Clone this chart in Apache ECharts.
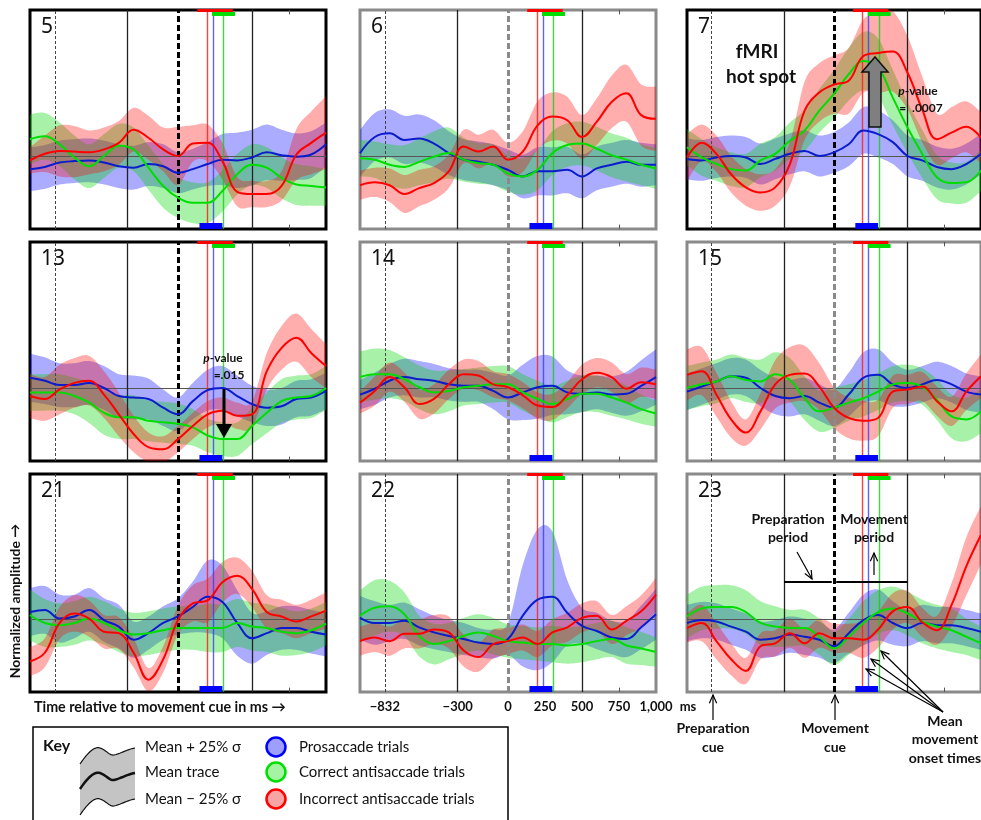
<!DOCTYPE html>
<html>
<head>
<meta charset="utf-8">
<script src="https://cdn.jsdelivr.net/npm/echarts@6/dist/echarts.min.js"></script>
<style>
html, body { margin: 0; padding: 0; background: #fff; }
#chart { width: 981px; height: 820px; }
</style>
</head>
<body>
<div id="chart"></div>
<script>
// sample times (ms, relative to movement cue)
const times = [-1000, -900, -800, -700, -600, -500, -400, -300, -200, -100, 0, 100, 200, 300, 400, 500, 600, 700, 800, 900, 1000];
const tickValues = [-832, -340, 0, 250, 500, 750, 1000];
const tickLabels = ['−832', '−300', '0', '250', '500', '750', '1,000'];
const prepCue = -832;
const periodStart = -340;
const moveCue = 0;
const periodEnd = 500;
const onsetRed = 195;
const onsetBlue = 235;
const onsetGreen = 305;
const spreadRed = [130, 370];
const spreadGreen = [230, 385];
const spreadBlue = [145, 300];

// mean traces and 25% sigma (x10 normalized amplitude)
const blue5 = [-1.8, -1.5, -0.9, -0.7, -0.6, -0.9, -1.4, -1.6, -1.1, -1.4, -2.3, -1.8, -1.1, -0.5, -0.6, -0.2, 0.5, 0.1, -0.1, 0.2, 1.6];
const blue5Sd = [3, 3, 3, 3, 3, 3, 3, 3, 3, 3, 2.8, 2.8, 3, 3.5, 3.8, 3.8, 3.8, 3.5, 3.2, 3.2, 3];
const green5 = [2.3, 2.7, 1.6, -0.2, -1.4, 0, 1.4, 0.9, -1.6, -4.1, -5.7, -6.4, -6.4, -4.8, -2.5, -1.2, -1.6, -3, -3.9, -4.1, -4.3];
const green5Sd = [3.4, 3.2, 3, 3, 3, 3, 3, 3, 3, 3, 2.8, 2.8, 2.8, 2.8, 2.8, 2.8, 2.8, 2.8, 2.8, 2.7, 2.5];
const red5 = [-0.6, 0.3, 0.7, 0.6, 0.5, 0.9, 1.8, 3.6, 2.5, 0.9, 0, 1.7, 1.8, -0.7, -4.9, -5.2, -5.2, -4.1, 0.2, 1.8, 3.2];
const red5Sd = [1.8, 2.5, 3.5, 3.5, 3, 3, 3, 3, 3, 3, 4, 2.5, 2.5, 2.5, 2, 1.8, 1.8, 2, 3.5, 4.3, 5];

const blue6 = [0.4, 2.6, 3.1, 2.2, 2.4, 1.7, 0.4, -0.5, -0.8, -1.2, -1.9, -2.8, -2.1, -2.1, -1.9, -2.8, -1.7, -1.2, -0.8, -1.2, -1.2];
const blue6Sd = [3.2, 3.3, 3.3, 3.3, 3.3, 3.2, 3, 2.8, 2.8, 2.8, 2.8, 3, 3.3, 3.3, 3.2, 3, 3, 3, 3, 3, 2.8];
const green6 = [-0.3, -0.5, -1.2, -1.5, -0.8, -0.1, 0.4, -0.5, -1, -1.2, -2.4, -2.8, -1.9, 0.4, 1.5, 1.7, 1, 0.1, -0.5, -1.2, -1.7];
const green6Sd = [2.5, 2.5, 2.8, 3, 3.2, 3.5, 3.5, 3, 2.8, 2.8, 2.5, 2.5, 2.8, 3, 3, 3, 3, 3, 3, 2.8, 2.8];
const red6 = [-4, -3.6, -4, -5.2, -4.4, -3.7, -2.1, 1.3, 0.6, 1.3, -0.5, 0.6, 4.2, 5.4, 4.9, 2.6, 4.7, 7.4, 8.6, 5.6, 5.1];
const red6Sd = [2, 2, 2.3, 2.6, 2.5, 2.3, 2.3, 2.3, 2.3, 2.3, 2.3, 2.8, 3.3, 3.3, 3.2, 3, 3.2, 3.6, 3.9, 4.2, 4.4];

const blue7 = [-0.4, -0.6, -0.2, 0, -0.2, -1.1, -0.4, 0.3, 0.7, 0, 0.5, 1.6, 3.5, 3, 1.9, 0, -0.6, -1.5, -1.8, -1.1, 0.3];
const blue7Sd = [2.8, 2.8, 2.8, 2.8, 2.8, 2.8, 2.8, 2.8, 2.8, 2.8, 2.8, 3, 3.2, 3.2, 3, 2.8, 2.8, 2.8, 2.8, 2.8, 2.8];
const green7 = [1.2, -0.2, -1.1, -1.8, -2, -0.6, 0.3, 2.1, 3.5, 6.2, 8.5, 11.2, 13, 12.1, 8, 3.9, 0.3, -2.9, -3.7, -3.6, -2];
const green7Sd = [2.5, 2.5, 2.3, 2.3, 2.3, 2.3, 2.3, 2.5, 2.8, 3, 3.3, 3.6, 4, 4, 3.8, 3.5, 3.3, 3, 2.8, 2.8, 2.8];
const red7 = [-0.2, 1.8, 0.3, -2.5, -4.3, -5, -4.3, -1.1, 6.2, 8.7, 9.8, 10.3, 13.7, 14.1, 14.3, 11.4, 6.4, 2.3, 3.2, 4, 2.5];
const red7Sd = [3.2, 2.5, 2.5, 2.5, 2.5, 2.5, 2.5, 3, 4, 4, 4, 4.5, 5, 5.5, 5.5, 5, 4.5, 3.5, 3.5, 3.5, 3.5];

const blue13 = [1.4, 1, 0.4, 0.4, 0.7, 0, -1.1, -1.3, -1.5, -2.7, -3.6, -1.8, -0.3, 0, -1.1, -2.2, -2.7, -2.5, -1.5, -1.3, -0.4];
const blue13Sd = [3.3, 3.2, 3, 3, 3, 3, 3, 3, 2.8, 2.5, 2.3, 2.5, 2.8, 3, 2.8, 2.5, 2.5, 2.5, 2.5, 2.5, 2.5];
const green13 = [-0.6, -0.6, -0.6, -1.1, -2, -3.4, -4, -4, -4.5, -4.7, -4.9, -5.4, -6.5, -7, -7, -5.2, -3.4, -1.8, -1.3, -1.1, 0];
const green13Sd = [2.5, 2.5, 2.5, 2.5, 2.8, 3, 3, 3, 2.8, 2.8, 2.8, 2.5, 2.3, 2.3, 2.3, 2.5, 2.8, 3, 3, 3, 3];
const red13 = [-1.1, -1.5, -0.2, 0.7, 1, -0.9, -3.6, -6.3, -8.1, -8.4, -7, -5.2, -3.6, -3.1, -3.8, -3.6, 2.3, 5.5, 6.9, 4.8, 3];
const red13Sd = [3, 3, 3.4, 3.4, 3.4, 3.2, 3, 2.5, 2, 1.8, 1.8, 1.8, 1.8, 1.8, 1.8, 1.8, 2.5, 3, 3.3, 3.3, 3];

const blue14 = [-0.9, -0.1, 1, 1.5, 1.2, 1, 0.5, 0.3, 0.3, -0.4, -1.3, -0.6, 0.1, 0.3, -0.6, -0.8, -0.6, -0.9, -0.8, 0.3, 1.5];
const blue14Sd = [2, 2.2, 2.3, 2.5, 2.5, 2.3, 2.2, 2.2, 2.2, 2.5, 3, 3.8, 4.3, 4, 3, 2.5, 2.3, 2.5, 3, 3.5, 3.8];
const green14 = [1.5, 1.9, 1.9, 1.2, 0.1, -0.6, -0.4, 0.1, 0.3, 0.5, 0.5, -0.6, -1.5, -2.2, -1.5, -0.8, -0.8, -1.3, -2, -2.9, -3.5];
const green14Sd = [3.5, 3.5, 3.3, 3, 3, 3, 2.8, 2.5, 2.5, 2.5, 2.5, 2.5, 2.5, 2.5, 2.5, 2.5, 2.5, 2.5, 2.3, 2, 1.8];
const red14 = [-2, -0.4, 1.5, 0.1, -2.2, -1.5, 0.5, 1.9, 1.7, 0.5, 0.1, -1, -2.4, -2.6, -1, 1.2, 2.1, 1.5, -0.1, 0.8, 0.5];
const red14Sd = [1.5, 2, 2, 2, 2, 2, 2, 2, 2, 1.8, 1.8, 1.8, 1.8, 1.8, 1.8, 2, 2, 2, 2, 2, 2];

const blue15 = [-0.5, 0.2, 0.9, 1.6, 1.4, 0, -1.1, -1.4, -1.1, -2, -2.7, -0.9, 1.4, 1.8, 0.5, 0, 0.5, 1.1, 0.5, -0.5, -0.9];
const blue15Sd = [2.5, 2.5, 2.5, 2.5, 2.5, 2.5, 2.5, 2.5, 2.5, 2.5, 2.5, 3, 3.5, 3.5, 3, 2.5, 2.5, 2.5, 2.5, 2.5, 2.5];
const green15 = [0, 0.5, 0.9, 1.6, 1.1, 0.9, 1.9, 1.1, -1.4, -3.2, -2.7, -2, -1.4, -0.5, 0.5, 0.7, 0.2, -1.6, -3.9, -4.3, -3.2];
const green15Sd = [3, 3, 3, 3, 3, 3, 3, 3, 3, 2.8, 2.8, 2.5, 2.5, 2.5, 2.5, 2.5, 2.5, 2.8, 3, 3, 3];
const red15 = [1.8, 2.3, -0.9, -4.3, -6.1, -3.2, 0.5, 1.8, 2, 0.2, -2.7, -4.1, -4.5, -4.1, -0.5, -0.2, 0.2, -1.8, -3.2, -0.5, 1.6];
const red15Sd = [3.5, 3.3, 3, 2.5, 1.8, 2.5, 3.3, 3.8, 3.8, 3.2, 2.8, 2.8, 2.7, 2.5, 2.2, 2, 2, 2, 2, 2.5, 3];

const blue21 = [1, 1.3, 0.1, 0.4, 1.3, -0.1, -1, -2.8, -1.9, -0.5, 0.4, 1.7, 3.1, 2.4, -0.5, -2.6, -1.9, -1.2, -1.2, -1.7, -2.1];
const blue21Sd = [3.3, 3.3, 3.3, 3, 3, 3, 3, 2.5, 2.3, 2.3, 2.5, 3.5, 5, 5, 4.5, 3.5, 3, 3, 3, 3, 3];
const green21 = [0.6, -0.5, -0.8, -0.5, 0.1, -0.5, -1.5, -2.1, -1.9, -1.5, -1.2, -1.2, -1.2, -1.2, -0.5, -1, -1.2, -1.7, -1.9, -1.5, -0.6];
const green21Sd = [3.5, 3.3, 3, 3, 3, 3, 3, 3, 3, 3, 3, 3, 3.3, 3.3, 3.3, 3.3, 3.3, 3.3, 3, 3, 3];
const red21 = [-5.8, -4.6, -0.5, 0.8, 0.1, -1.7, -1.9, -4.6, -8.3, -5.5, -0.1, 2.2, 2.6, 5.1, 6, 4.2, 1, 0.4, -0.3, 0.4, 1.2];
const red21Sd = [2, 2, 2.2, 2.5, 2.5, 2.3, 2.2, 2, 1.6, 1.8, 2, 2.5, 3, 2.8, 2.5, 2.5, 2.3, 2.3, 2.3, 2.3, 2.5];

const blue22 = [0.2, -0.5, -0.5, -0.2, -1.1, -1.8, -2.3, -2.7, -3.2, -3.4, -2.7, 0.5, 2.7, 3.1, 0.9, -0.9, -1.6, -2.5, -2.7, -1.1, 0.7];
const blue22Sd = [3, 3, 2.5, 2.5, 2.5, 2.3, 2.2, 2.2, 2, 2, 2.2, 7, 9.7, 9, 4.5, 2.5, 2.5, 2.3, 2.5, 3, 3.5];
const green22 = [0.5, 1.6, 1.8, 0.7, -2.3, -3.4, -3, -2.3, -1.8, -2.3, -3, -3.2, -3.4, -3.4, -3.6, -3.4, -3, -2.7, -3.6, -4, -4.5];
const green22Sd = [3.5, 3.8, 3.5, 3, 2.8, 2.8, 2.5, 2.5, 2.5, 2.5, 2.3, 2.3, 2.3, 2.5, 2.5, 2.5, 2.5, 2.5, 2.5, 2.3, 2];
const red22 = [-3, -2.5, -3, -2, -2, -1.4, -1.8, -4.3, -5.2, -3.4, -3, -2.5, -3.4, -1.8, -1.1, 0.2, 0.5, -1.4, -0.2, 1.1, 3.4];
const red22Sd = [2, 2, 2, 2, 2, 2, 2.2, 2.2, 2, 2, 1.8, 1.8, 1.8, 1.8, 2, 2, 2, 2, 2, 2.2, 2.3];

const blue23 = [-0.5, -0.1, -0.3, -1, -1.7, -2.8, -2.6, -2.1, -2.4, -2.8, -3.7, -1.9, -0.1, 0.6, -0.5, -1.2, -0.5, -0.8, -0.8, -1.2, -1.7];
const blue23Sd = [2.5, 2.5, 2.5, 2.5, 2.5, 2.5, 2.5, 2.5, 2.5, 2.5, 2.3, 2.8, 3.5, 3.5, 3, 2.5, 2.5, 2.5, 2.5, 2.5, 2.5];
const green23 = [0.4, 1.5, 1.7, 1.7, 1, -0.5, -1, -1.2, -1.2, -2.4, -4, -2.4, -0.5, 1, 1.5, 0.8, -0.3, -1, -1.5, -2.4, -3.3];
const green23Sd = [3, 3, 3, 3, 3, 3, 2.8, 2.5, 2.5, 2.5, 2.3, 2.5, 3, 3, 3, 3, 3, 3, 3, 2.5, 2.3];
const red23 = [-1.2, -0.5, -3, -5.5, -7.1, -3.7, -3.3, -1.9, -3.3, -1.9, -2.6, -2.6, -2.8, -1.4, 1.1, 1.7, -0.4, -1.5, 2, 7.3, 11.6];
const red23Sd = [2, 2.5, 2.5, 2.2, 1.8, 1.8, 1.8, 2, 2, 2, 2, 2, 2.5, 2.5, 2.5, 2.2, 2, 2, 3, 4, 4];

const BLACK = '#000';
const GRAY = '#8a8a8a';
const panels = [
  { id: '5', left: 30, top: 10, h: 219, frame: BLACK, zero: BLACK, b: blue5, bs: blue5Sd, g: green5, gs: green5Sd, r: red5, rs: red5Sd },
  { id: '6', left: 360, top: 10, h: 219, frame: GRAY, zero: GRAY, b: blue6, bs: blue6Sd, g: green6, gs: green6Sd, r: red6, rs: red6Sd },
  { id: '7', left: 687, top: 10, h: 219, frame: BLACK, zero: BLACK, b: blue7, bs: blue7Sd, g: green7, gs: green7Sd, r: red7, rs: red7Sd },
  { id: '13', left: 30, top: 242, h: 219, frame: BLACK, zero: BLACK, b: blue13, bs: blue13Sd, g: green13, gs: green13Sd, r: red13, rs: red13Sd },
  { id: '14', left: 360, top: 242, h: 219, frame: GRAY, zero: GRAY, b: blue14, bs: blue14Sd, g: green14, gs: green14Sd, r: red14, rs: red14Sd },
  { id: '15', left: 687, top: 242, h: 219, frame: GRAY, zero: GRAY, b: blue15, bs: blue15Sd, g: green15, gs: green15Sd, r: red15, rs: red15Sd },
  { id: '21', left: 30, top: 474, h: 218, frame: BLACK, zero: BLACK, b: blue21, bs: blue21Sd, g: green21, gs: green21Sd, r: red21, rs: red21Sd },
  { id: '22', left: 360, top: 474, h: 218, frame: GRAY, zero: GRAY, b: blue22, bs: blue22Sd, g: green22, gs: green22Sd, r: red22, rs: red22Sd },
  { id: '23', left: 687, top: 474, h: 218, frame: GRAY, zero: BLACK, b: blue23, bs: blue23Sd, g: green23, gs: green23Sd, r: red23, rs: red23Sd }
]

const YMIN = -10, YMAX = 20
const FONT = 'Lato, "DejaVu Sans", sans-serif'

const myChart = echarts.init(document.getElementById('chart'), null, { renderer: 'canvas' })

const grids = [], xAxes = [], yAxes = [], series = []

// catmull-rom through pixel points, so band edges curve like the traces
function spline(pts) {
  const out = []
  const n = pts.length
  for (let i = 0; i < n - 1; i++) {
    const p0 = pts[Math.max(i - 1, 0)], p1 = pts[i], p2 = pts[i + 1], p3 = pts[Math.min(i + 2, n - 1)]
    for (let s = 0; s < 8; s++) {
      const t = s / 8, t2 = t * t, t3 = t2 * t
      const f = d => 0.5 * (2 * p1[d] + (-p0[d] + p2[d]) * t + (2 * p0[d] - 5 * p1[d] + 4 * p2[d] - p3[d]) * t2 + (-p0[d] + 3 * p1[d] - 3 * p2[d] + p3[d]) * t3)
      out.push([f(0), f(1)])
    }
  }
  out.push(pts[n - 1])
  return out
}

function band(gi, mean, sd, color) {
  return {
    type: 'custom', xAxisIndex: gi, yAxisIndex: gi, silent: true, z: 2,
    data: times.map((t, k) => [t, mean[k] - sd[k], mean[k] + sd[k]]),
    encode: { x: 0, y: [1, 2] },
    renderItem: (params, api) => {
      if (params.dataIndex !== 0) return null
      const up = times.map((t, k) => api.coord([t, mean[k] + sd[k]]))
      const lo = times.map((t, k) => api.coord([t, mean[k] - sd[k]]))
      const cs = params.coordSys
      return {
        type: 'polygon',
        shape: { points: spline(up).concat(spline(lo).reverse()) },
        style: { fill: color },
        clipPath: { type: 'rect', shape: { x: cs.x, y: cs.y, width: cs.width, height: cs.height } }
      }
    }
  }
}

function meanLine(gi, mean, color) {
  return {
    type: 'line', xAxisIndex: gi, yAxisIndex: gi, smooth: 0.4, symbol: 'none', silent: true, z: 5,
    lineStyle: { color, width: 2 },
    data: times.map((t, k) => [t, mean[k]])
  }
}

function seg(x1, y1, x2, y2, style) {
  return [{ coord: [x1, y1], lineStyle: style }, { coord: [x2, y2] }]
}

panels.forEach((p, gi) => {
  grids.push({
    left: p.left, top: p.top, width: 296, height: p.h,
    show: true, borderColor: p.frame, borderWidth: 3, backgroundColor: '#fff'
  })
  const isAxisPanel = p.id === '22'
  xAxes.push({
    gridIndex: gi, type: 'value', min: -1000, max: 1000,
    axisLine: { show: false }, axisTick: { show: false }, splitLine: { show: false },
    axisLabel: isAxisPanel ? {
      show: true, customValues: tickValues, hideOverlap: false,
      formatter: v => tickLabels[tickValues.indexOf(v)],
      color: '#111', fontSize: 13, fontWeight: 'bold', fontFamily: FONT, margin: 8
    } : { show: false }
  })
  yAxes.push({
    gridIndex: gi, type: 'value', min: YMIN, max: YMAX,
    axisLine: { show: false }, axisTick: { show: false }, splitLine: { show: false }, axisLabel: { show: false }
  })

  series.push(band(gi, p.b, p.bs, 'rgba(0,0,255,0.33)'))
  series.push(band(gi, p.g, p.gs, 'rgba(0,215,0,0.34)'))
  series.push(band(gi, p.r, p.rs, 'rgba(255,0,0,0.32)'))

  const marks = [
    { yAxis: 0, lineStyle: { color: '#555', width: 1, type: 'solid' } },
    { xAxis: prepCue, lineStyle: { color: '#444', width: 1, type: [3, 2] } },
    { xAxis: periodStart, lineStyle: { color: '#222', width: 1.3, type: 'solid' } },
    { xAxis: periodEnd, lineStyle: { color: '#222', width: 1.3, type: 'solid' } },
    { xAxis: onsetRed, lineStyle: { color: '#ff2020', width: 1.4, type: 'solid', opacity: 0.85 } },
    { xAxis: onsetBlue, lineStyle: { color: '#3a3aff', width: 1.4, type: 'solid', opacity: 0.8 } },
    { xAxis: onsetGreen, lineStyle: { color: '#10d010', width: 1.4, type: 'solid', opacity: 0.8 } },
    { xAxis: moveCue, lineStyle: { color: p.zero, width: 3, type: [6, 3] } },
    seg(750, YMAX, 750, YMAX - 0.6, { color: '#555', width: 1, type: 'solid' }),
    seg(750, YMIN, 750, YMIN + 0.6, { color: '#555', width: 1, type: 'solid' }),
    seg(spreadRed[0], YMAX - 0.1, spreadRed[1], YMAX - 0.1, { color: '#ff0000', width: 3, type: 'solid' }),
    seg(spreadGreen[0], YMAX - 0.5, spreadGreen[1], YMAX - 0.5, { color: '#00dd00', width: 4, type: 'solid' }),
    seg(spreadBlue[0], YMIN + 0.45, spreadBlue[1], YMIN + 0.45, { color: '#0000ff', width: 6, type: 'solid' })
  ]
  if (p.id === '23') {
    marks.push(seg(periodStart, 5.2, -15, 5.2, { color: '#000', width: 2, type: 'solid' }))
    marks.push(seg(15, 5.2, periodEnd, 5.2, { color: '#000', width: 2, type: 'solid' }))
  }
  series.push({
    type: 'line', xAxisIndex: gi, yAxisIndex: gi, silent: true, z: 4,
    symbol: 'none', lineStyle: { opacity: 0 }, data: [[0, 0]],
    markLine: { silent: true, symbol: ['none', 'none'], label: { show: false }, animation: false, data: marks }
  })

  series.push(meanLine(gi, p.b, '#0a1ccc'))
  series.push(meanLine(gi, p.g, '#00dd00'))
  series.push(meanLine(gi, p.r, '#ff0000'))
})

// annotation helpers
function vHead(fx, fy, tx, ty, len) {
  const a = Math.atan2(ty - fy, tx - fx)
  const s = 0.42
  return [
    [tx - len * Math.cos(a - s), ty - len * Math.sin(a - s)],
    [tx, ty],
    [tx - len * Math.cos(a + s), ty - len * Math.sin(a + s)]
  ]
}
function thinArrow(fx, fy, tx, ty) {
  return [
    { type: 'polyline', z: 100, shape: { points: [[fx, fy], [tx, ty]] }, style: { stroke: '#000', lineWidth: 1.2, fill: null } },
    { type: 'polyline', z: 100, shape: { points: vHead(fx, fy, tx, ty, 9) }, style: { stroke: '#000', lineWidth: 1.2, fill: null } }
  ]
}
function label(text, x, y, size, weight, extra) {
  return {
    type: 'text', z: 100, x, y,
    style: Object.assign({
      text, font: (weight || 'bold') + ' ' + size + 'px ' + FONT, fill: '#111',
      align: 'center', verticalAlign: 'middle'
    }, extra || {})
  }
}
// cubic bezier points for the key icon
function bez(p0, c1, c2, p3) {
  const pts = []
  for (let i = 0; i <= 12; i++) {
    const t = i / 12, u = 1 - t
    pts.push([
      u * u * u * p0[0] + 3 * u * u * t * c1[0] + 3 * u * t * t * c2[0] + t * t * t * p3[0],
      u * u * u * p0[1] + 3 * u * u * t * c1[1] + 3 * u * t * t * c2[1] + t * t * t * p3[1]
    ])
  }
  return pts
}
function wave(dy) {
  return [].concat(
    bez([80, 764 + dy], [88, 752 + dy], [95, 746 + dy], [100, 748 + dy]),
    bez([100, 748 + dy], [106, 750 + dy], [110, 756 + dy], [114, 755 + dy]),
    bez([114, 755 + dy], [122, 753 + dy], [128, 749 + dy], [135, 748 + dy])
  )
}
const pRich = { i: { fontStyle: 'italic', fontWeight: 'bold', fontSize: 12, fontFamily: FONT, fill: '#111' } }

const graphics = []
// panel numbers
panels.forEach(p => {
  graphics.push({
    type: 'text', z: 100, x: p.left + 11, y: p.top + 17,
    style: { text: p.id, font: '21px "Noto Sans", sans-serif', fill: '#111', align: 'left', verticalAlign: 'middle' }
  })
})

// panel 7 annotations
graphics.push(label('fMRI', 757, 52, 19))
graphics.push(label('hot spot', 761, 77, 19))
graphics.push({
  type: 'polygon', z: 100,
  shape: { points: [[869, 127], [869, 72], [862, 72], [875, 57], [888, 72], [881, 72], [881, 127]] },
  style: { fill: '#7f7f7f', stroke: '#111', lineWidth: 1.5 }
})
graphics.push(label('{i|p}-value', 918, 91, 12, 'bold', { rich: pRich }))
graphics.push(label('=  .0007', 921, 108, 12))

// panel 13 annotations
graphics.push(label('{i|p}-value', 223, 358, 12, 'bold', { rich: pRich }))
graphics.push(label('=.015', 229, 375, 12))
graphics.push({ type: 'polyline', z: 100, shape: { points: [[224, 389], [224, 426]] }, style: { stroke: '#000', lineWidth: 3, fill: null } })
graphics.push({ type: 'polygon', z: 100, shape: { points: [[216, 424], [232, 424], [224, 438]] }, style: { fill: '#000' } })

// panel 23 annotations
graphics.push(label('Preparation', 788, 519, 14))
graphics.push(label('period', 788, 537, 14))
graphics.push(label('Movement', 874, 519, 14))
graphics.push(label('period', 874, 537, 14))
graphics.push(...thinArrow(797, 552, 812, 579))
graphics.push(...thinArrow(874, 575, 874, 553))

graphics.push(label('Preparation', 713, 728, 14))
graphics.push(label('cue', 713, 747, 14))
graphics.push(...thinArrow(713, 720, 713, 695))
graphics.push(label('Movement', 835, 728, 14))
graphics.push(label('cue', 835, 747, 14))
graphics.push(...thinArrow(835, 720, 835, 695))
graphics.push(label('Mean', 945, 721, 14))
graphics.push(label('movement', 945, 739, 14))
graphics.push(label('onset times', 945, 758, 14))
graphics.push(...thinArrow(943, 712, 866, 669))
graphics.push(...thinArrow(943, 712, 871, 659))
graphics.push(...thinArrow(943, 712, 881, 651))

// axis titles
graphics.push(label('Time relative to movement cue in ms →', 34, 707, 14.3, 'bold', { align: 'left' }))
graphics.push(label('ms', 688, 707, 13))
graphics.push({
  type: 'text', z: 100, x: 15, y: 601, rotation: Math.PI / 2,
  style: { text: 'Normalized amplitude →', font: 'bold 14px ' + FONT, fill: '#111', align: 'center', verticalAlign: 'middle' }
})

// key box
graphics.push({ type: 'rect', z: 100, shape: { x: 33, y: 727, width: 475, height: 120 }, style: { fill: '#fff', stroke: '#000', lineWidth: 1.5 } })
graphics.push(label('Key', 43, 746, 16, 'bold', { align: 'left' }))
const topWave = wave(0), midWave = wave(25), lowWave = wave(51)
graphics.push({
  type: 'polygon', z: 101,
  shape: { points: topWave.concat(lowWave.slice().reverse()) },
  style: { fill: '#c4c4c4', stroke: null }
})
graphics.push({ type: 'polyline', z: 102, shape: { points: topWave }, style: { fill: null, stroke: '#111', lineWidth: 1.2 } })
graphics.push({ type: 'polyline', z: 102, shape: { points: midWave }, style: { fill: null, stroke: '#111', lineWidth: 2.5 } })
graphics.push({ type: 'polyline', z: 102, shape: { points: lowWave }, style: { fill: null, stroke: '#111', lineWidth: 1.2 } })
graphics.push(label('Mean + 25% σ', 145, 747, 15, 'normal', { align: 'left' }))
graphics.push(label('Mean trace', 145, 772, 15, 'normal', { align: 'left' }))
graphics.push(label('Mean − 25% σ', 145, 799, 15, 'normal', { align: 'left' }))
const keyRows = [
  { y: 747, fill: '#9e9eff', stroke: '#0000ff', text: 'Prosaccade trials' },
  { y: 772, fill: '#a4f4a4', stroke: '#00e000', text: 'Correct antisaccade trials' },
  { y: 799, fill: '#f8a4a4', stroke: '#ff0000', text: 'Incorrect antisaccade trials' }
]
keyRows.forEach(k => {
  graphics.push({ type: 'circle', z: 101, shape: { cx: 276, cy: k.y, r: 9.5 }, style: { fill: k.fill, stroke: k.stroke, lineWidth: 2.5 } })
  graphics.push(label(k.text, 299, k.y, 15, 'normal', { align: 'left' }))
})

const option = {
  animation: false,
  backgroundColor: '#fff',
  grid: grids,
  xAxis: xAxes,
  yAxis: yAxes,
  series: series,
  graphic: graphics
}
myChart.setOption(option)
</script>
</body>
</html>
